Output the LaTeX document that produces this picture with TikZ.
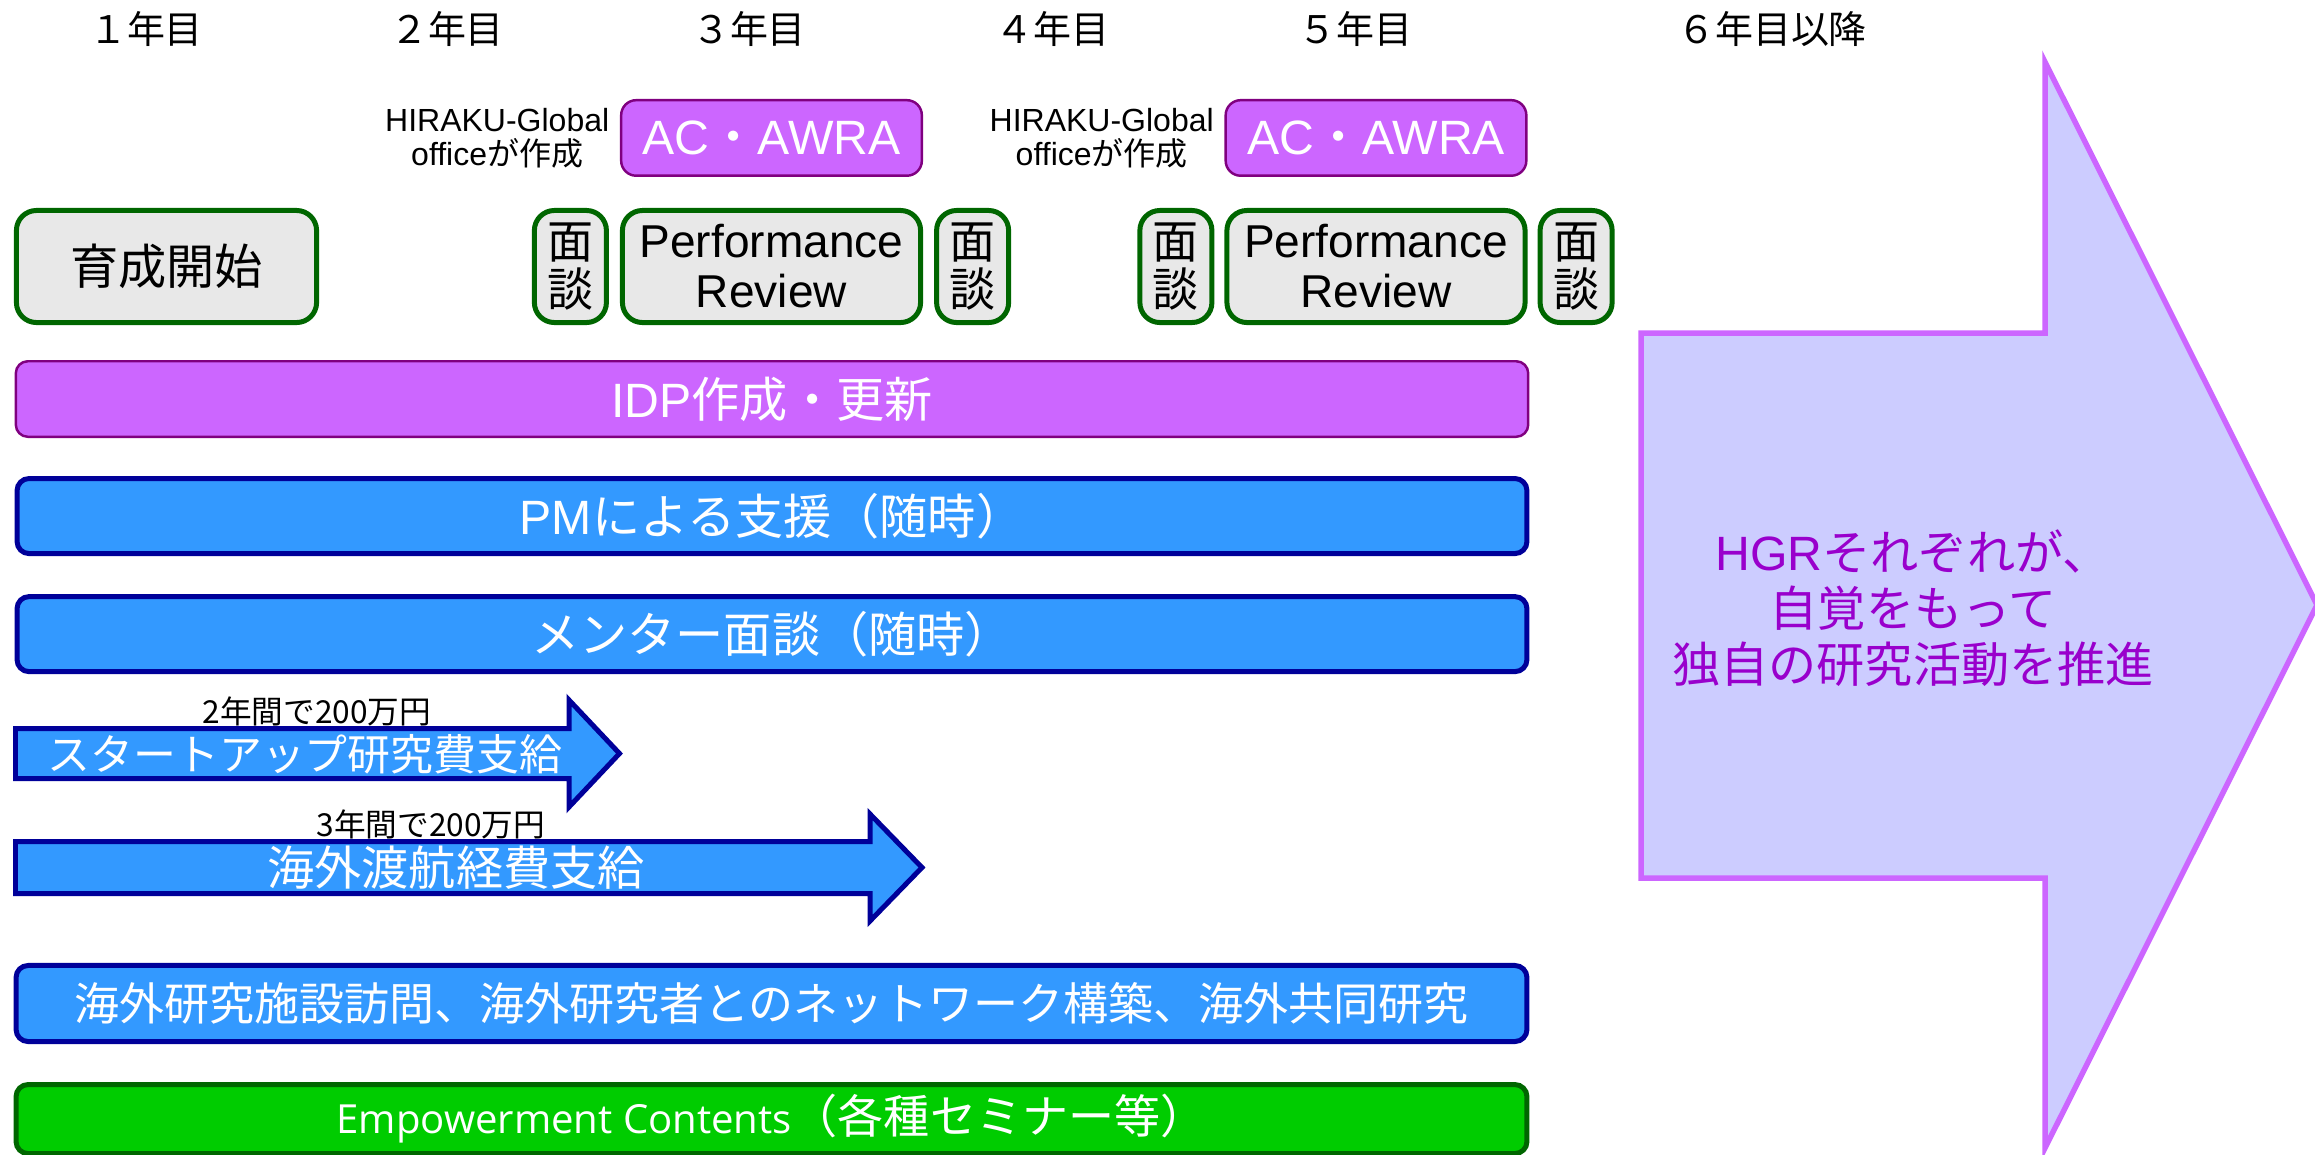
\documentclass[tikz,border=0pt]{standalone}
\usepackage{fontspec}
\setmainfont{Noto Sans CJK JP}
\newfontfamily\arial{Liberation Sans}
\newfontfamily\opensans{Open Sans}
\usepackage{tikz}
\definecolor{boxgrey}{RGB}{232,232,232}
\definecolor{darkgreen}{RGB}{0,102,0}
\definecolor{lilac}{RGB}{204,102,255}
\definecolor{plum}{RGB}{128,0,128}
\definecolor{skyblue}{RGB}{51,153,255}
\definecolor{navyline}{RGB}{0,0,153}
\definecolor{leaf}{RGB}{0,204,0}
\definecolor{lavender}{RGB}{204,204,255}
\definecolor{grape}{RGB}{153,0,204}
\newcommand{\setfs}[2]{\fontsize{#1}{#2}\selectfont}
\usetikzlibrary{positioning}

\begin{document}
\begin{tikzpicture}[x=0.01cm,y=-0.01cm,inner sep=0pt]
	\tikzstyle{year}=[font=\setfs{10.8pt}{12pt}]
	\tikzstyle{greybox}=[draw=darkgreen,fill=boxgrey,line width=1.42pt,rounded corners=0.2cm,align=center,minimum height=1.12cm]
	\tikzstyle{talk}=[greybox,minimum width=0.72cm,font=\setfs{13.1pt}{13.7pt}]
	\tikzstyle{review}=[greybox,minimum width=2.98cm,font=\arial\setfs{13.1pt}{14.2pt}]
	\tikzstyle{acbox}=[draw=plum,fill=lilac,line width=0.7pt,rounded corners=0.15cm,minimum width=3.005cm,minimum height=0.755cm,text=white,font=\arial\setfs{13.7pt}{16pt}]
	\tikzstyle{office}=[align=center,font=\arial\setfs{9.1pt}{9.6pt}]
	\tikzstyle{bar}=[draw=navyline,fill=skyblue,line width=1.42pt,rounded corners=0.12cm,minimum width=15.09cm,minimum height=0.75cm,text=white,font=\setfs{13.7pt}{16pt}]
	\tikzstyle{bararrow}=[draw=navyline,fill=skyblue,line width=1.42pt]
	\tikzstyle{bigarrow}=[draw=lilac,fill=lavender,line width=1.56pt]
	\tikzstyle{note}=[font=\setfs{9pt}{10pt}]

	\useasboundingbox (0,0) rectangle (2315,1154);

	% years
	\node[year] (y1) at (146,29) {１年目};
	\node[year] (y2) at (447,29) {２年目};
	\node[year] (y3) at (749,29) {３年目};
	\node[year] (y4) at (1052,29) {４年目};
	\node[year] (y5) at (1355,29) {５年目};
	\node[year] (y6) at (1772,29) {６年目以降};

	% reviews
	\node[greybox,minimum width=3.00cm,font=\setfs{13.7pt}{16pt}] (start) at (166.5,266.5) {育成開始};
	\node[review] (pr1) at (771.5,266.5) {Performance\\Review};
	\node[talk] (m1) [left=0.11cm of pr1] {面\\談};
	\node[talk] (m2) [right=0.11cm of pr1] {面\\談};
	\node[review] (pr2) at (1376,266.5) {Performance\\Review};
	\node[talk] (m3) [left=0.1cm of pr2] {面\\談};
	\node[talk] (m4) [right=0.1cm of pr2] {面\\談};

	\node[acbox] (ac1) [above=0.31cm of pr1] {AC{\rmfamily ・}AWRA};
	\node[acbox] (ac2) [above=0.31cm of pr2] {AC{\rmfamily ・}AWRA};
	\node[office] (off1) [left=0.1cm of ac1] {HIRAKU-Global\\office{\rmfamily が作成}};
	\node[office] (off2) [left=0.1cm of ac2] {HIRAKU-Global\\office{\rmfamily が作成}};

	% support bars
	\node[bar,draw=plum,fill=lilac,line width=0.7pt,minimum width=15.115cm,minimum height=0.755cm] (idp) at (772,399) {{\arial IDP}作成・更新};
	\node[bar] (pm) [below=0.38cm of idp] {{\arial PM}による支援（随時）};
	\node[bar] (mentor) [below=0.38cm of pm] {メンター面談（随時）};

	\draw[bararrow] (15.5,728.5) -- (569,728.5) -- (569,700) -- (619.5,753.5) -- (569,807) -- (569,778.5) -- (15.5,778.5) -- cycle;
	\node[note] (fund1) at (317,711) {2年間で200万円};
	\node[font=\setfs{12.2pt}{14pt},text=white] (startup) at (305,754) {スタートアップ研究費支給};

	\draw[bararrow] (15.5,841.5) -- (870,841.5) -- (870,814) -- (922,867.5) -- (870,921) -- (870,893.5) -- (15.5,893.5) -- cycle;
	\node[note] (fund2) at (431,824) {3年間で200万円};
	\node[font=\setfs{13.4pt}{15pt},text=white] (travel) at (456,868) {海外渡航経費支給};

	\node[bar,minimum width=15.10cm,minimum height=0.76cm,font=\setfs{12.8pt}{14pt}] (network) at (771.5,1003.5) {海外研究施設訪問、海外研究者とのネットワーク構築、海外共同研究};
	\node[bar,draw=darkgreen,fill=leaf,minimum width=15.10cm,minimum height=0.69cm,font=\setfs{13.1pt}{15pt}] (seminar) [below=0.38cm of network] {{\opensans\setfs{11.4pt}{14pt}Empowerment Contents}（各種セミナー等）};

	% after year 5
	\draw[bigarrow] (1641,333) -- (2045,333) -- (2045,62) -- (2317,605) -- (2045,1148) -- (2045,878) -- (1641,878) -- cycle;
	\node[align=center,text=grape,font=\setfs{13.7pt}{15.9pt}] (hgr) at (1913,608) {{\arial HGR}それぞれが、\\自覚をもって\\独自の研究活動を推進};
\end{tikzpicture}
\end{document}
